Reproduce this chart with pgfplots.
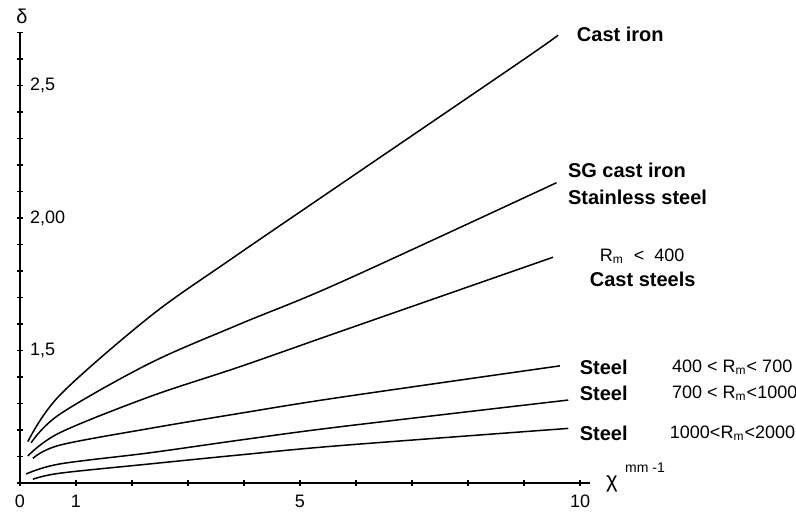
\documentclass[border=0pt]{standalone}
\usepackage{pgfplots}
\pgfplotsset{compat=1.18}
\usepackage{fontspec}
\setmainfont{Liberation Sans}
\begin{document}
\begin{tikzpicture}
\begin{axis}[
  scale only axis,
  width=285.04pt, height=225.25pt,
  xmin=0, xmax=10.18, ymin=1, ymax=2.7,
  axis x line=bottom, axis y line=left,
  axis line style={-, line width=0.8pt},
  clip=false,
  tick align=center,
  major tick length=3pt,
  tick style={line width=0.6pt, black},
  xtick={0,1,...,10},
  xticklabels={0,1,,,,5,,,,,10},
  ytick={1.0,1.1,...,2.71},
  yticklabels={,,,,,{1,5},,,,,{2,00},,,,,{2,5},,},
  yticklabel style={anchor=west, xshift=3pt, font=\fontsize{9}{10}\selectfont},
  xticklabel style={font=\fontsize{9}{10}\selectfont, yshift=-1pt},
  crv/.style={black, solid, line width=0.75pt, mark=none, smooth, tension=0.55},
]
% Cast iron
\addplot[crv] coordinates {(0.14,1.156) (0.714,1.332) (2.32,1.628) (3.75,1.842) (5.71,2.125) (8.98,2.596) (9.61,2.690)};
% SG cast iron / Stainless steel
\addplot[crv] coordinates {(0.2,1.152) (0.714,1.260) (2.32,1.452) (3.93,1.600) (5.71,1.756) (9.58,2.133)};
% Rm<400 cast steels
\addplot[crv] coordinates {(0.14,1.102) (0.714,1.190) (2.32,1.326) (3.93,1.439) (5.71,1.571) (9.52,1.852)};
% Steel 400-700
\addplot[crv] coordinates {(0.23,1.093) (0.714,1.143) (2.32,1.206) (3.93,1.263) (5.71,1.323) (9.64,1.442)};
% Steel 700-1000
\addplot[crv] coordinates {(0.11,1.034) (0.714,1.072) (2.32,1.114) (3.93,1.162) (5.71,1.212) (9.79,1.313)};
% Steel 1000-2000
\addplot[crv] coordinates {(0.23,1.014) (0.714,1.037) (2.32,1.072) (3.93,1.106) (5.71,1.141) (9.79,1.206)};

\node[font=\fontsize{10}{12}\selectfont] at (axis cs:0.036,2.762) {δ};
\node[font=\fontsize{11}{12}\selectfont] at (axis cs:10.57,0.995) {χ};
\node[anchor=west, font=\fontsize{7}{8}\selectfont] at (axis cs:10.68,1.057) {mm -1};

\begin{scope}[every node/.style={anchor=west, font=\bfseries\fontsize{10}{12}\selectfont}]
\node at (axis cs:9.82,2.694) {Cast iron};
\node at (axis cs:9.66,2.181) {SG cast iron};
\node at (axis cs:9.66,2.079) {Stainless steel};
\node at (axis cs:10.05,1.770) {Cast steels};
\node at (axis cs:9.87,1.438) {Steel};
\node at (axis cs:9.87,1.340) {Steel};
\node at (axis cs:9.87,1.189) {Steel};
\end{scope}
\begin{scope}[every node/.style={anchor=west, font=\fontsize{9}{10}\selectfont}]
\node at (axis cs:10.23,1.857) {R\textsubscript{m} ~<~ 400};
\node at (axis cs:11.52,1.438) {400 < R\textsubscript{m}< 700};
\node at (axis cs:11.52,1.340) {700 < R\textsubscript{m}<1000};
\node at (axis cs:11.48,1.189) {1000<R\textsubscript{m}<2000};
\end{scope}

\coordinate (bbl) at (axis cs:-0.357,0.8868);
\coordinate (btr) at (axis cs:13.857,2.8226);
\end{axis}
\pgfresetboundingbox
\path[use as bounding box] (bbl) rectangle (btr);
\end{tikzpicture}
\end{document}
